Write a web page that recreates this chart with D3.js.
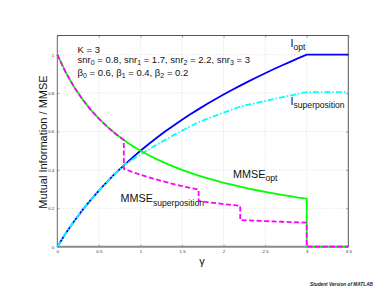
<!DOCTYPE html>
<html><head><meta charset="utf-8">
<script src="https://cdn.jsdelivr.net/npm/d3@7"></script>
<style>body{margin:0;background:#fff}svg{display:block}text{font-family:"Liberation Sans",Arial,sans-serif}</style>
</head><body>
<svg id="c" width="374" height="289"></svg>
<script>
// gamma grid
const gammaOpt = [0,0.1,0.2,0.3,0.4,0.5,0.6,0.7,0.8,0.9,1.0,1.1,1.2,1.3,1.4,1.5,1.6,1.7,1.8,1.9,2.0,2.1,2.2,2.3,2.4,2.5,2.6,2.7,2.8,2.9,3.0,3.5];
const iOpt = [0,0.0688,0.1315,0.1893,0.2427,0.2925,0.3390,0.3827,0.4240,0.4630,0.5,0.5352,0.5688,0.6008,0.6315,0.6610,0.6893,0.7165,0.7427,0.7680,0.7925,0.8161,0.8390,0.8613,0.8827,0.9037,0.9240,0.9438,0.9630,0.9818,1.0,1.0];
const gammaSup = [0,0.1,0.2,0.3,0.4,0.5,0.6,0.7,0.8,0.9,1.0,1.1,1.2,1.3,1.4,1.5,1.6,1.7,1.8,1.9,2.0,2.1,2.2,2.3,2.4,2.5,2.6,2.7,2.8,2.9,3.0,3.5];
const iSup = [0,0.0688,0.1315,0.1893,0.2427,0.2925,0.3390,0.3827,0.4240,0.4527,0.4802,0.5068,0.5324,0.5571,0.5810,0.6042,0.6266,0.6484,0.6654,0.6820,0.6982,0.7140,0.7295,0.7395,0.7493,0.7589,0.7685,0.7779,0.7872,0.7964,0.8055,0.8055];
const gammaMmseOpt = [0,0.1,0.2,0.3,0.4,0.5,0.6,0.7,0.8,0.9,1.0,1.1,1.2,1.3,1.4,1.5,1.6,1.7,1.8,1.9,2.0,2.1,2.2,2.3,2.4,2.5,2.6,2.7,2.8,2.9,3.0,3.0,3.5];
const mmseOpt = [1,0.909,0.833,0.769,0.714,0.667,0.625,0.588,0.556,0.526,0.5,0.476,0.455,0.435,0.417,0.4,0.385,0.370,0.357,0.345,0.333,0.323,0.3125,0.303,0.294,0.286,0.278,0.270,0.263,0.256,0.25,0,0];
const gammaMmseSup = [0,0.1,0.2,0.3,0.4,0.5,0.6,0.7,0.8,0.8,0.9,1.0,1.1,1.2,1.3,1.4,1.5,1.6,1.7,1.7,1.8,1.9,2.0,2.1,2.2,2.2,2.3,2.4,2.5,2.6,2.7,2.8,2.9,3.0,3.0,3.5];
const mmseSup = [1,0.909,0.833,0.769,0.714,0.667,0.625,0.588,0.556,0.4054,0.3896,0.375,0.3614,0.3488,0.3371,0.3261,0.3158,0.3061,0.2970,0.2381,0.2326,0.2273,0.2222,0.2174,0.2128,0.1389,0.1370,0.1351,0.1333,0.1316,0.1299,0.1282,0.1266,0.125,0,0];
const xTicks = [0,0.5,1,1.5,2,2.5,3,3.5];
const xTickLabels = ["0","0.5","1","1.5","2","2.5","3","3.5"];
const yTicks = [0,0.2,0.4,0.6,0.8,1];
const yTickLabels = ["0","0.2","0.4","0.6","0.8","1"];

const svg = d3.select("#c");
const L=57.3, R=348.3, T=35.5, B=246.7;
const x = d3.scaleLinear().domain([0,3.5]).range([L,R]);
const y = d3.scaleLinear().domain([0,1.1]).range([B,T]);

// grid
const g = svg.append("g");
g.selectAll(".gx").data(xTicks.slice(1,-1)).enter().append("line")
 .attr("x1",d=>x(d)).attr("x2",d=>x(d)).attr("y1",T).attr("y2",B)
 .attr("stroke","#c8c8c8").attr("stroke-width",0.6).attr("stroke-dasharray","1,2");
g.selectAll(".gy").data(yTicks.slice(1)).enter().append("line")
 .attr("y1",d=>y(d)).attr("y2",d=>y(d)).attr("x1",L).attr("x2",R)
 .attr("stroke","#c8c8c8").attr("stroke-width",0.6).attr("stroke-dasharray","1,2");

// axes
const xAxis = d3.axisBottom(x).tickValues(xTicks).tickFormat((d,i)=>xTickLabels[i]).tickSize(-2).tickPadding(2);
const yAxis = d3.axisLeft(y).tickValues(yTicks).tickFormat((d,i)=>yTickLabels[i]).tickSize(-2).tickPadding(3);
const ax = svg.append("g").attr("transform",`translate(0,${B})`).call(xAxis);
const ay = svg.append("g").attr("transform",`translate(${L},0)`).call(yAxis);
[ax,ay].forEach(a=>{a.select(".domain").remove();a.selectAll("line").attr("stroke","#555").attr("stroke-width",0.6);a.selectAll("text").attr("font-size",4.4).attr("fill","#333").attr("font-family","Liberation Sans, Arial, sans-serif");});
ax.selectAll("text").attr("dy","0.9em");
// mirrored ticks top/right
svg.append("g").attr("transform",`translate(0,${T})`).call(d3.axisTop(x).tickValues(xTicks).tickSize(-2).tickFormat(""))
 .call(a=>{a.select(".domain").remove();a.selectAll("line").attr("stroke","#555").attr("stroke-width",0.6);});
svg.append("g").attr("transform",`translate(${R},0)`).call(d3.axisRight(y).tickValues(yTicks).tickSize(-2).tickFormat(""))
 .call(a=>{a.select(".domain").remove();a.selectAll("line").attr("stroke","#555").attr("stroke-width",0.6);});

// box
svg.append("line").attr("x1",L).attr("x2",R).attr("y1",T).attr("y2",T).attr("stroke","#555").attr("stroke-width",1);
svg.append("line").attr("x1",R).attr("x2",R).attr("y1",T).attr("y2",B).attr("stroke","#555").attr("stroke-width",1);
svg.append("line").attr("x1",L).attr("x2",L).attr("y1",T).attr("y2",B).attr("stroke","#666").attr("stroke-width",1);
svg.append("line").attr("x1",L).attr("x2",R).attr("y1",B).attr("y2",B).attr("stroke","#8a8a8a").attr("stroke-width",2);

// lines
const line = (xs,ys)=>d3.line().x((d,i)=>x(xs[i])).y((d,i)=>y(ys[i]))(ys);
svg.append("path").attr("d",line(gammaOpt,iOpt)).attr("fill","none").attr("stroke","#0000ff").attr("stroke-width",1.8);
svg.append("path").attr("d",line(gammaSup,iSup)).attr("fill","none").attr("stroke","#00ffff").attr("stroke-width",1.8).attr("stroke-dasharray","6,2,1.5,2");
svg.append("path").attr("d",line(gammaMmseOpt,mmseOpt)).attr("fill","none").attr("stroke","#00ff00").attr("stroke-width",1.8);
svg.append("path").attr("d",line(gammaMmseSup,mmseSup)).attr("fill","none").attr("stroke","#ff00ff").attr("stroke-width",1.8).attr("stroke-dasharray","5,2.5");

// axis labels
svg.append("text").attr("transform","translate(47,142) rotate(-90)").attr("text-anchor","middle")
 .attr("font-size",11).attr("fill","#111").text("Mutual Information / MMSE");
svg.append("text").attr("x",202).attr("y",265).attr("text-anchor","middle").attr("font-size",11).attr("fill","#111").text("γ");

// annotation helper: parts [text, isSub]
function rich(xp, yp, parts, fs, sfs, drop){
  const t = svg.append("text").attr("x",xp).attr("y",yp).attr("font-size",fs).attr("fill","#111");
  let sub=false;
  parts.forEach(p=>{
    const s = t.append("tspan").text(p[0]);
    if(p[1] && !sub){ s.attr("dy",fs*drop).attr("font-size",sfs); sub=true; }
    else if(p[1] && sub){ s.attr("font-size",sfs); }
    else if(!p[1] && sub){ s.attr("dy",-fs*drop); sub=false; }
  });
  return t;
}
const fa=9.5, fsa=7;
rich(77.5,52.5,[["K = 3",0]],fa,fsa,0.25);
rich(77.5,62.5,[["snr",0],["0",1],[" = 0.8, snr",0],["1",1],[" = 1.7, snr",0],["2",1],[" = 2.2, snr",0],["3",1],[" = 3",0]],fa,fsa,0.25);
rich(77.5,75.5,[["β",0],["0",1],[" = 0.6, β",0],["1",1],[" = 0.4, β",0],["2",1],[" = 0.2",0]],fa,fsa,0.25);

const fl=10.8, fsl=8.6;
rich(290.5,47,[["I",0],["opt",1]],fl,fsl,0.3);
rich(290.5,104.5,[["I",0],["superposition",1]],fl,fsl,0.3);
rich(233,177.7,[["MMSE",0],["opt",1]],fl,fsl,0.3);
rich(120.5,202.3,[["MMSE",0],["superposition",1]],fl,fsl,0.3);

svg.append("text").attr("x",310).attr("y",286).attr("font-size",4.6).attr("font-weight","bold").attr("font-style","italic")
 .attr("fill","#222").attr("textLength",63).attr("lengthAdjust","spacingAndGlyphs").text("Student Version of MATLAB");
</script>
</body></html>
